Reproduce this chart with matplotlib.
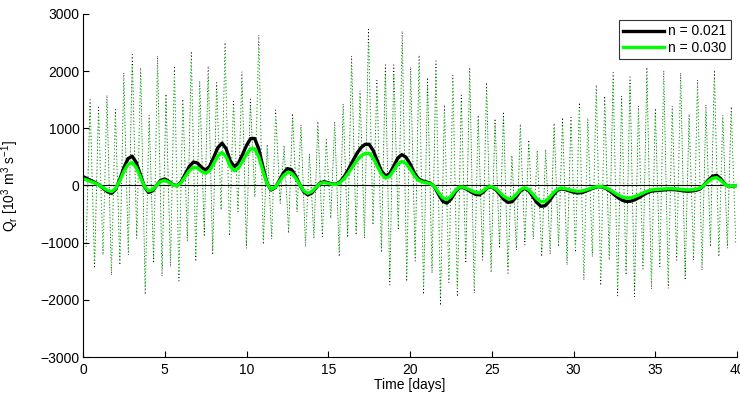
import numpy as np
import matplotlib
matplotlib.use("Agg")
import matplotlib.pyplot as plt

plt.rcParams['font.family'] = ['Liberation Sans', 'DejaVu Sans']
plt.rcParams['mathtext.fontset'] = 'custom'
plt.rcParams['mathtext.rm'] = 'Liberation Sans'
plt.rcParams['mathtext.it'] = 'Liberation Sans:italic'

# residual (tidally averaged) discharge, sampled every 0.25 day, 10^3 m^3/s
resid_021 = [155, 120, 85, 50, 5, -55, -110, -137, -65, 108, 313, 469,
             513, 406, 195, -16, -122, -94, 1, 91, 113, 71, 14, -3,
             64, 197, 331, 410, 393, 315, 270, 336, 498, 665, 740, 646,
             433, 330, 390, 539, 702, 820, 822, 638, 328, 43, -79, -38,
             83, 216, 295, 277, 170, 21, -109, -165, -130, -40, 45, 66,
             48, 25, 24, 72, 166, 290, 430, 560, 663, 720, 720, 611,
             430, 255, 167, 204, 337, 480, 540, 495, 380, 230, 120, 80,
             62, 40, -24, -158, -276, -309, -240, -122, -38, -36, -69, -116,
             -154, -163, -108, -36, -25, -73, -160, -247, -295, -283, -197, -95,
             -50, -88, -188, -296, -363, -356, -280, -172, -85, -60, -72, -95,
             -118, -130, -124, -100, -68, -39, -21, -25, -54, -103, -162, -218,
             -260, -280, -274, -249, -212, -168, -128, -100, -90, -85, -78, -72,
             -70, -75, -85, -95, -100, -95, -85, -58, 13, 98, 161, 178,
             118, 24, -20, -10, 0]
resid_030 = [121, 94, 66, 39, 4, -43, -86, -107, -51, 84, 244, 366,
             400, 317, 152, -12, -95, -73, 1, 71, 88, 55, 11, -10,
             50, 154, 258, 320, 307, 246, 211, 262, 388, 519, 577, 504,
             338, 257, 304, 420, 548, 640, 641, 498, 256, 34, -68, -30,
             65, 168, 230, 216, 133, 16, -90, -138, -105, -31, 35, 51,
             37, 20, 19, 56, 129, 226, 335, 437, 517, 562, 562, 477,
             335, 199, 130, 159, 263, 374, 421, 386, 296, 179, 94, 62,
             48, 31, -19, -123, -215, -245, -190, -95, -30, -28, -54, -90,
             -120, -130, -84, -28, -20, -57, -125, -193, -235, -225, -154, -74,
             -39, -69, -147, -231, -285, -280, -218, -134, -66, -47, -56, -74,
             -92, -101, -97, -78, -53, -30, -16, -20, -42, -80, -126, -170,
             -203, -218, -214, -194, -165, -131, -100, -78, -70, -66, -61, -56,
             -55, -59, -66, -74, -78, -74, -66, -45, 10, 76, 126, 139,
             92, 19, -16, -8, 0]

# instantaneous discharge: flood peaks and ebb troughs of each tidal cycle
peaks_021 = [1500, 1370, 1580, 1330, 1970, 2290, 2060, 1230, 2265, 1600, 2090, 1510,
             2350, 1830, 2090, 1800, 2500, 1500, 1990, 1510, 2630, 720, 1320, 700,
             1260, 1060, 560, 1120, 800, 1120, 1430, 2265, 1660, 2730, 1840, 2110,
             2110, 2700, 2070, 2280, 1890, 2180, 1410, 1930, 1580, 2070, 1230, 1800,
             1170, 1290, 530, 1075, 795, 610, 630, 1090, 1190, 1190, 1450, 1175,
             1760, 1565, 1975, 1565, 1900, 1390, 2070, 1350, 2010, 1390, 1970, 1250,
             1845, 1410, 2020, 1230, 1380]
troughs_021 = [-1070, -1450, -1215, -1565, -1390, -1215, -925, -1905, -1360, -1585, -1420, -1670,
               -980, -1330, -895, -1215, -430, -880, -460, -1100, -200, -1030, -940, -310,
               -835, -460, -1070, -925, -895, -575, -1245, -910, -865, -925, -690, -1170,
               -1740, -780, -1680, -1320, -1905, -1535, -2100, -1695, -1945, -1360, -1885, -1305,
               -1520, -1100, -1535, -1130, -1040, -935, -1245, -1205, -1070, -1390, -1170, -1655,
               -1245, -1750, -1305, -1930, -1565, -1945, -1460, -1810, -1420, -1800, -1305, -1655,
               -1305, -1480, -1070, -1245, -1100, -1040]
peaks_030 = [1380, 1260, 1450, 1220, 1810, 2110, 1900, 1130, 2080, 1470, 1920, 1390,
             2160, 1680, 1920, 1660, 2300, 1380, 1830, 1390, 2420, 660, 1210, 640,
             1160, 980, 520, 1030, 740, 1030, 1320, 2080, 1530, 2510, 1690, 1940,
             1940, 2480, 1900, 2100, 1740, 2010, 1300, 1780, 1450, 1900, 1130, 1660,
             1080, 1190, 490, 990, 730, 560, 580, 1000, 1090, 1090, 1330, 1080,
             1620, 1440, 1820, 1440, 1750, 1280, 1900, 1240, 1850, 1280, 1810, 1150,
             1700, 1300, 1860, 1130, 1270]
troughs_030 = [-1000, -1350, -1130, -1460, -1290, -1130, -860, -1770, -1260, -1470, -1320, -1550,
               -910, -1240, -830, -1130, -400, -820, -430, -1020, -190, -960, -870, -290,
               -780, -430, -1000, -860, -830, -530, -1160, -850, -800, -860, -640, -1090,
               -1620, -730, -1560, -1230, -1770, -1430, -1950, -1580, -1810, -1260, -1750, -1210,
               -1410, -1020, -1430, -1050, -970, -870, -1160, -1120, -1000, -1290, -1090, -1540,
               -1160, -1630, -1210, -1790, -1460, -1810, -1360, -1680, -1320, -1670, -1210, -1540,
               -1210, -1380, -1000, -1160, -1020, -970]

labels = ['n = 0.021', 'n = 0.030']
green = '#00ff00'

# time axes
t_resid = np.arange(len(resid_021)) * 0.25
tide_period = 0.516


def tidal_series(troughs, peaks):
    # alternate trough, peak, trough ... in time order
    t_tr = 0.19 + tide_period * np.arange(len(troughs))
    t_pk = 0.43 + tide_period * np.arange(len(peaks))
    t = np.empty(len(troughs) + len(peaks))
    q = np.empty_like(t)
    t[0::2], q[0::2] = t_tr, troughs
    t[1::2], q[1::2] = t_pk, peaks
    return t, q


fig = plt.figure(figsize=(7.4, 3.94), dpi=100)
ax = fig.add_axes([0.1122, 0.0939, 0.8838, 0.8706])

t1, q1 = tidal_series(troughs_021, peaks_021)
t2, q2 = tidal_series(troughs_030, peaks_030)
ax.plot(t1, q1, linestyle=(0, (1, 3)), color='k', lw=0.6)
ax.plot(t2, q2, linestyle=(2, (1, 3)), color=green, lw=0.6)
ax.axhline(0, color='k', lw=0.8)
ax.plot(t_resid, resid_021, color='k', lw=2.4, label=labels[0])
ax.plot(t_resid, resid_030, color=green, lw=2.4, label=labels[1])

ax.set_xlim(0, 40)
ax.set_ylim(-3000, 3000)
ax.set_xticks(np.arange(0, 41, 5))
ax.set_yticks(np.arange(-3000, 3001, 1000))
ax.tick_params(direction='in', length=4.5, width=0.8, labelsize=10)
ax.tick_params(axis='x', pad=4)
ax.tick_params(axis='y', pad=2.5)
ax.spines['top'].set_visible(False)
ax.spines['right'].set_visible(False)
for s in ['left', 'bottom']:
    ax.spines[s].set_linewidth(0.8)

ax.set_xlabel('Time [days]', fontsize=10, labelpad=1)
ax.set_ylabel(r'Q$_\mathregular{r}$ [10$^\mathregular{3}$ m$^\mathregular{3}$ s$^\mathregular{-1}$]', fontsize=10)
ax.yaxis.set_label_coords(-0.095, 0.5)

leg = ax.legend(loc='upper right', fontsize=10, frameon=True, fancybox=False,
                edgecolor='k', borderaxespad=0.45, handlelength=2.9,
                handletextpad=0.35, labelspacing=0.2, borderpad=0.3)
leg.get_frame().set_linewidth(0.8)

fig.savefig('out.png', dpi=100)
